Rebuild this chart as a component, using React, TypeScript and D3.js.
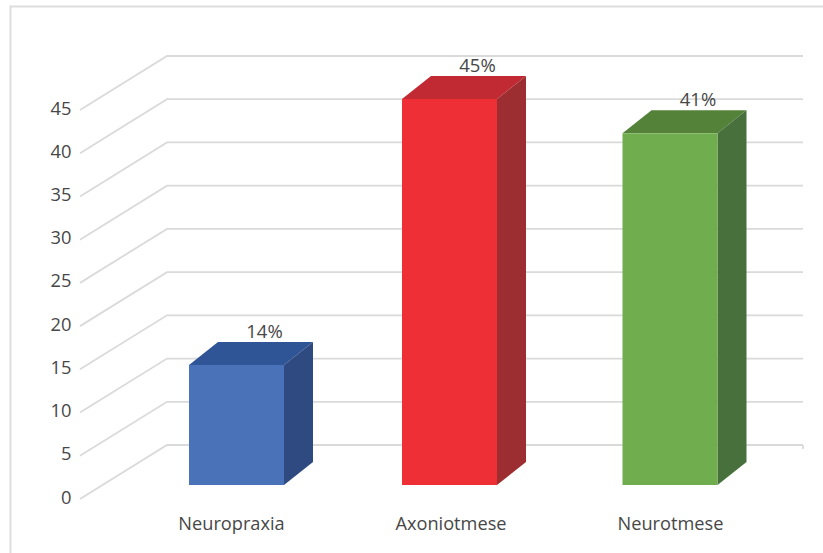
import React from "react";
import * as d3 from "d3";

const categories = ["Neuropraxia", "Axoniotmese", "Neurotmese"];
const percentages = [14, 45, 41];
const faceColors = ["#4a72b8", "#ee2f36", "#70ad4f"];
const topColors = ["#2f5597", "#c12a33", "#548239"];
const sideColors = ["#2f4a80", "#9c2e31", "#47703d"];
const axisTicks = [0, 5, 10, 15, 20, 25, 30, 35, 40, 45];

const WIDTH = 823;
const HEIGHT = 553;
const BAR_WIDTH = 95;
const BAR_DEPTH_X = 29;
const BAR_DEPTH_Y = 23;
const WALL_DX = 87;
const WALL_DY = 54;
const TEXT = "#474747";
const FONT = "'Open Sans', sans-serif";

// Back-wall gridlines and the bars on the floor use separate vertical scales.
const wallY = d3.scaleLinear().domain([0, 45]).range([445, 56]);
const barY = d3.scaleLinear().domain([0, 45]).range([485, 99]);
const centerX = d3.scaleOrdinal<string, number>().domain(categories).range([236.5, 449.5, 670]);
// Category captions sit on an evenly spaced row below the floor.
const captionX = d3.scalePoint<string>().domain(categories).range([231.5, 670.5]);

const gridPath = (v: number) => {
  const y = wallY(v);
  return d3.line()([
    [80, y + WALL_DY],
    [80 + WALL_DX, y],
    [803, y],
  ]) as string;
};

const polygon = (pts: [number, number][]) => d3.line()(pts)! + "Z";

export default function App() {
  const base = barY(0);
  return (
    <svg
      width={WIDTH}
      height={HEIGHT}
      style={{ position: "fixed", left: 0, top: 0, background: "#ffffff" }}
      fontFamily={FONT}
    >
      <path d={`M823,6.5H10.5V553`} fill="none" stroke="#dedede" strokeWidth={2} />

      {axisTicks.map((t) => (
        <path key={t} d={gridPath(t)} fill="none" stroke="#dadada" strokeWidth={1.8} />
      ))}
      <path d={`M803,${wallY(0)}v4`} stroke="#dadada" strokeWidth={1.8} />

      {axisTicks.map((t) => (
        <text
          key={t}
          x={71.5}
          y={wallY(t) + WALL_DY - 3}
          textAnchor="end"
          dominantBaseline="central"
          fontSize={18.3}
          fill={TEXT}
        >
          {t}
        </text>
      ))}

      {categories.map((c, i) => {
        const x0 = centerX(c) - BAR_WIDTH / 2;
        const x1 = x0 + BAR_WIDTH;
        const top = barY(percentages[i]);
        const dx = BAR_DEPTH_X;
        const dy = BAR_DEPTH_Y;
        return (
          <g key={c}>
            <path
              d={polygon([[x0, top], [x0 + dx, top - dy], [x1 + dx, top - dy], [x1, top]])}
              fill={topColors[i]}
            />
            <path
              d={polygon([[x1, top], [x1 + dx, top - dy], [x1 + dx, base - dy], [x1, base]])}
              fill={sideColors[i]}
            />
            <rect x={x0} y={top} width={BAR_WIDTH} height={base - top} fill={faceColors[i]} />
            <text
              x={centerX(c) + 28}
              y={top - dy - 4}
              textAnchor="middle"
              fontSize={18.5}
              fill={TEXT}
            >
              {percentages[i]}%
            </text>
            <text x={captionX(c)} y={530} textAnchor="middle" fontSize={18.2} fill={TEXT}>
              {c}
            </text>
          </g>
        );
      })}
    </svg>
  );
}
